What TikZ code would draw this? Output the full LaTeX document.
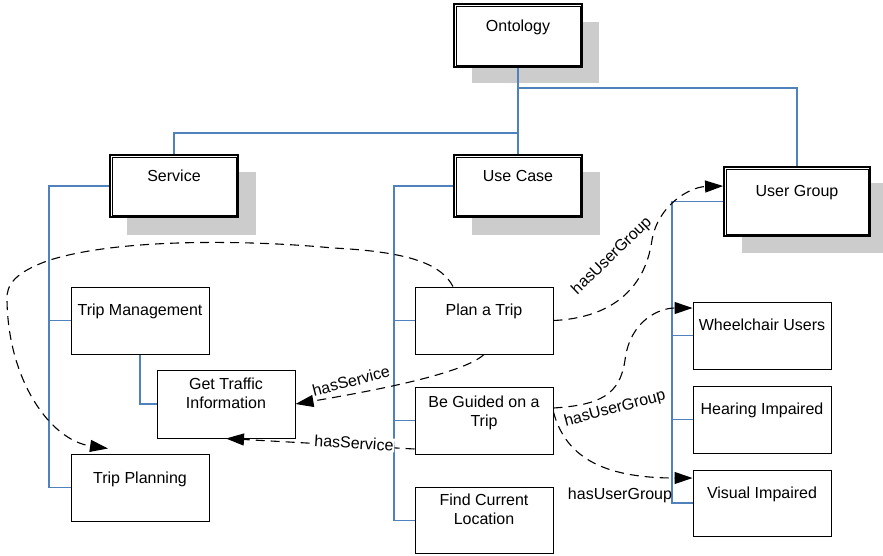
\documentclass[tikz,border=0pt]{standalone}
\usepackage{fontspec}
\setmainfont{Liberation Sans}
\usetikzlibrary{arrows.meta}
\definecolor{linkblue}{RGB}{79,129,189}
\definecolor{shadowgray}{RGB}{204,204,204}
\begin{document}
\begin{tikzpicture}[x=1pt,y=-1pt,
  box/.style={draw=black, line width=1pt, minimum width=138pt, minimum height=67pt, inner sep=0pt, fill=white},
  topbox/.style={draw=black, line width=1.8pt, inner sep=0pt, fill=white},
  innerframe/.style={draw=black, line width=0.8pt},
  shade/.style={fill=shadowgray, draw=none},
  txt/.style={font=\fontsize{16}{19}\selectfont, anchor=base, inner sep=0pt, align=center},
  tree/.style={draw=linkblue, line width=1.2pt},
  rel/.style={draw=black, line width=1.1pt, dash pattern=on 9pt off 6pt, -{Triangle[length=18pt,width=12pt]}},
  lbl/.style={font=\fontsize{16}{19}\selectfont, inner sep=1pt}
]
\useasboundingbox (0,0) rectangle (883,555);
% shadows
\fill[shade] (472,22) rectangle (599,83);
\fill[shade] (127,172) rectangle (256,235);
\fill[shade] (472,172) rectangle (600,235);
\fill[shade] (742,183) rectangle (883,253);
% top-level boxes
\node[topbox, minimum width=128pt, minimum height=63pt] (onto) at (518,35.5) {};
\node[topbox, minimum width=128pt, minimum height=62pt] (serv) at (174,186) {};
\node[topbox, minimum width=128pt, minimum height=62pt] (uc) at (518,186) {};
\node[topbox, minimum width=146pt, minimum height=69pt] (ug) at (797,201.5) {};
\foreach \n in {onto,serv,uc,ug}
  \draw[innerframe] ([shift={(3pt,-3pt)}]\n.north west) rectangle ([shift={(-3pt,3pt)}]\n.south east);
% leaf boxes
\node[box] (tman) at (140,320.5) {};
\node[box, minimum height=68pt] (gti) at (226,404) {};
\node[box] (tplan) at (140,487.5) {};
\node[box] (plan) at (484,320.5) {};
\node[box] (guide) at (484,420.5) {};
\node[box, minimum height=66pt] (find) at (484,520.5) {};
\node[box] (wheel) at (762,335.5) {};
\node[box] (hear) at (762,419.5) {};
\node[box, minimum height=66pt] (vis) at (762,503) {};
% texts
\node[txt] (tonto) at (518,31.5) {Ontology};
\node[txt] (tserv) at (174,181) {Service};
\node[txt] (tuc) at (518,181) {Use Case};
\node[txt] (tug) at (797,196.5) {User Group};
\node[txt] (ttman) at (140,315) {Trip Management};
\node[txt] (tgti) at (226,408.3) {Get Traffic\\Information};
\node[txt] (ttplan) at (140,483) {Trip Planning};
\node[txt] (tplan2) at (484,315) {Plan a Trip};
\node[txt] (tguide) at (484,426) {Be Guided on a\\Trip};
\node[txt] (tfind) at (484,524.5) {Find Current\\Location};
\node[txt] (twheel) at (762,330.5) {Wheelchair Users};
\node[txt] (thear) at (762,414.5) {Hearing Impaired};
\node[txt] (tvis) at (762,498) {Visual Impaired};
% tree connectors
\coordinate (j1) at (518,88);
\coordinate (j2) at (518,133);
\coordinate (sx) at (49,0);
\coordinate (ux) at (394,0);
\coordinate (gx) at (672,0);
\draw[tree] (onto.south) -- (uc.north);
\draw[tree] (onto.south |- j1) -| (ug.north);
\draw[tree] (serv.north) |- (j2);
\draw[tree] (serv.west) -| (sx |- tplan.west) -- (tplan.west);
\draw[tree] (sx |- tman.west) -- (tman.west);
\draw[tree] (tman.south) |- (gti.west);
\draw[tree] (uc.west) -| (ux |- find.west) -- (find.west);
\draw[tree] (ux |- plan.west) -- (plan.west);
\draw[tree] (ux |- guide.west) -- (guide.west);
\draw[tree] (ug.west) -| (gx |- vis.west) -- (vis.west);
\draw[tree] (gx |- wheel.west) -- (wheel.west);
\draw[tree] (gx |- hear.west) -- (hear.west);
% relations
\draw[rel] ([xshift=-31pt]plan.north) .. controls (442,266) and (415,252) .. (333,248)
  .. controls (250,240) and (120,238) .. (50,260)
  .. controls (15,272) and (6,285) .. (7,300)
  .. controls (8,380) and (50,440) .. ([xshift=-32pt,yshift=5pt]tplan.north);
\draw[rel] (plan.south) .. controls (465,372) and (390,388) .. (gti.east);
\draw[rel] ([yshift=-28.5pt]guide.west) -- (gti.south);
\draw[rel] (plan.east) .. controls (610,318) and (645,290) .. (652,240)
  .. controls (658,205) and (690,187) .. ([yshift=15.5pt]ug.west);
\draw[rel] ([yshift=12.5pt]guide.east) .. controls (600,405) and (620,395) .. (625,360)
  .. controls (630,320) and (660,308) .. ([yshift=27.5pt]wheel.west);
\draw[rel] ([yshift=8.5pt]guide.east) .. controls (565,455) and (600,478) .. ([yshift=25pt]vis.west);
% relation labels
\node[lbl, rotate=14.5] (l1) at (351,381) {hasService};
\node[lbl, rotate=-3.5, fill=white] (l2) at (354,443) {hasService};
\node[lbl, rotate=44] (l3) at (612,256) {hasUserGroup};
\node[lbl, rotate=15] (l4) at (615,409) {hasUserGroup};
\node[lbl, anchor=base] (l5) at (620,499) {hasUserGroup};
\end{tikzpicture}
\end{document}
